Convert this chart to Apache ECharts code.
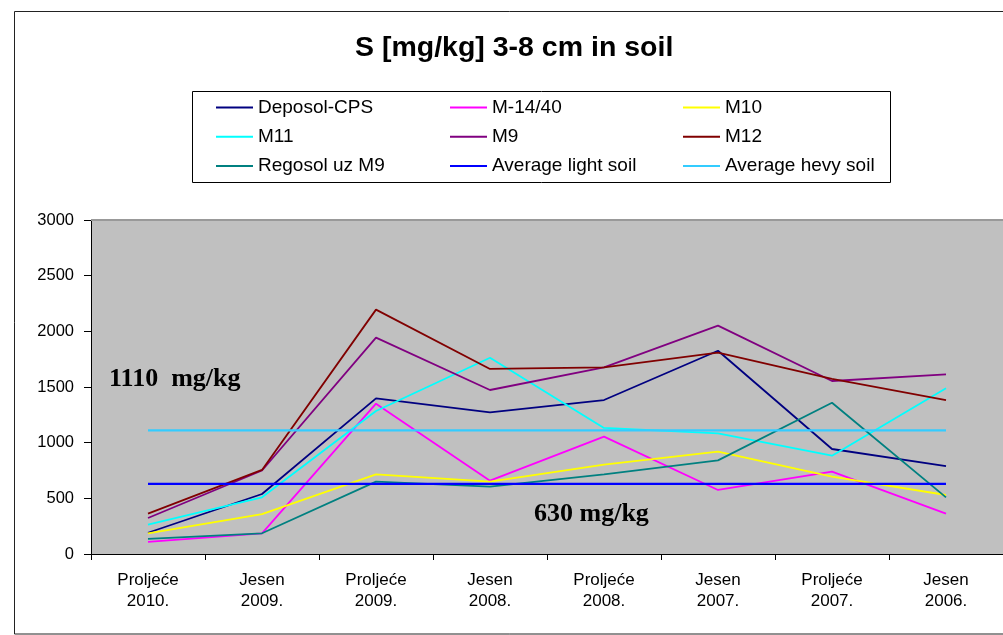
<!DOCTYPE html>
<html>
<head>
<meta charset="utf-8">
<script src="https://cdn.jsdelivr.net/npm/echarts@6/dist/echarts.min.js"></script>
<style>
html,body{margin:0;padding:0;background:#fff;}
#chart{width:1003px;height:635px;}
</style>
</head>
<body>
<div id="chart"></div>
<script>
// ---- data ----
var categories = ['Proljeće\n2010.', 'Jesen\n2009.', 'Proljeće\n2009.', 'Jesen\n2008.', 'Proljeće\n2008.', 'Jesen\n2007.', 'Proljeće\n2007.', 'Jesen\n2006.'];
var seriesNames = ['Deposol-CPS', 'M-14/40', 'M10', 'M11', 'M9', 'M12', 'Regosol uz M9', 'Average light soil', 'Average hevy soil'];
var deposolCPS = [191, 539, 1398, 1272, 1383, 1826, 943, 790];
var m1440 = [108, 186, 1350, 659, 1054, 575, 740, 362];
var m10 = [186, 359, 716, 650, 802, 919, 695, 530];
var m11 = [263, 509, 1284, 1763, 1132, 1084, 883, 1488];
var m9 = [323, 750, 1943, 1473, 1677, 2051, 1554, 1614];
var m12 = [362, 755, 2195, 1662, 1677, 1808, 1572, 1383];
var regosol = [135, 186, 650, 605, 716, 841, 1359, 509];
var avgLight = [630, 630, 630, 630, 630, 630, 630, 630];
var avgHeavy = [1110, 1110, 1110, 1110, 1110, 1110, 1110, 1110];
var yTicks = [0, 500, 1000, 1500, 2000, 2500, 3000];
var titleText = 'S [mg/kg] 3-8 cm in soil';
var annotHeavy = '1110  mg/kg';
var annotLight = '630 mg/kg';

var values = [deposolCPS, m1440, m10, m11, m9, m12, regosol, avgLight, avgHeavy];
var colors = ['#000080', '#FF00FF', '#FFFF00', '#00FFFF', '#800080', '#800000', '#008080', '#0000FF', '#33CCFF'];

var chart = echarts.init(document.getElementById('chart'), null, {renderer: 'canvas'});

var series = seriesNames.map(function (n, i) {
  return {
    name: n,
    type: 'line',
    data: values[i],
    symbol: 'none',
    showSymbol: false,
    smooth: false,
    color: colors[i],
    itemStyle: {color: colors[i]},
    lineStyle: {color: colors[i], width: i >= 7 ? 2.2 : 1.8},
    z: 3 + i
  };
});

function legendCol(names, left) {
  return {
    orient: 'vertical',
    left: left,
    top: 98,
    padding: 0,
    icon: 'rect',
    itemWidth: 37,
    itemHeight: 2,
    itemGap: 10.3,
    data: names,
    selectedMode: false,
    textStyle: {fontFamily: 'Liberation Sans', fontSize: 19, color: '#000'}
  };
}

var option = {
  animation: false,
  backgroundColor: '#fff',
  title: {
    text: titleText,
    left: 355,
    top: 34,
    padding: 0,
    textStyle: {fontFamily: 'Liberation Sans', fontSize: 28.5, fontWeight: 'bold', color: '#000'}
  },
  legend: [
    legendCol([seriesNames[0], seriesNames[3], seriesNames[6]], 216),
    legendCol([seriesNames[1], seriesNames[4], seriesNames[7]], 450),
    legendCol([seriesNames[2], seriesNames[5], seriesNames[8]], 683)
  ],
  grid: {
    left: 91, top: 220, width: 916, height: 334,
    show: true, backgroundColor: '#C0C0C0', borderWidth: 0
  },
  xAxis: {
    type: 'category',
    data: categories,
    boundaryGap: true,
    axisLine: {lineStyle: {color: '#000', width: 1}},
    axisTick: {show: true, length: 6, lineStyle: {color: '#000'}},
    axisLabel: {
      interval: 0, margin: 16,
      fontFamily: 'Liberation Sans', fontSize: 17, lineHeight: 21, color: '#000', align: 'center'
    },
    splitLine: {show: false}
  },
  yAxis: {
    type: 'value',
    min: yTicks[0],
    max: yTicks[yTicks.length - 1],
    interval: yTicks[1] - yTicks[0],
    axisLine: {show: true, lineStyle: {color: '#000', width: 1}},
    axisTick: {show: true, length: 7, lineStyle: {color: '#000'}},
    axisLabel: {margin: 17, fontFamily: 'Liberation Sans', fontSize: 16.5, color: '#000', formatter: function (v) { return String(v); }},
    splitLine: {show: false}
  },
  graphic: [
    {type: 'rect', shape: {x: 14.5, y: 11.5, width: 1000, height: 622.5}, style: {fill: 'none', stroke: '#222', lineWidth: 1}, z: 0},
    {type: 'rect', shape: {x: 192.5, y: 91.5, width: 698, height: 91}, style: {fill: 'none', stroke: '#000', lineWidth: 1}, z: 0},
    {type: 'line', shape: {x1: 91, y1: 220, x2: 1003, y2: 220}, style: {stroke: '#999', lineWidth: 2}, z: 1},
    {type: 'text', x: 109, y: 379.5, style: {text: annotHeavy, fontFamily: 'Liberation Serif', fontSize: 26, fontWeight: 'bold', fill: '#000', textAlign: 'left', textVerticalAlign: 'middle'}, z: 20},
    {type: 'text', x: 534, y: 514.5, style: {text: annotLight, fontFamily: 'Liberation Serif', fontSize: 26, fontWeight: 'bold', fill: '#000', textAlign: 'left', textVerticalAlign: 'middle'}, z: 20}
  ],
  series: series
};

chart.setOption(option);
</script>
</body>
</html>
